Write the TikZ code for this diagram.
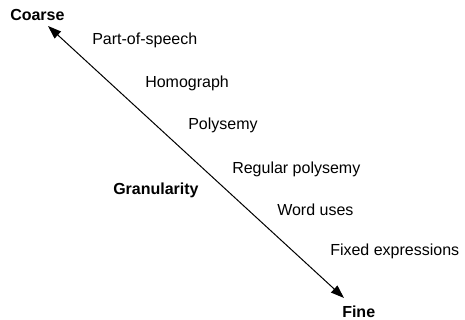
\documentclass[tikz,border=0pt]{standalone}
\usepackage{fontspec}
\setmainfont{Liberation Sans}
\usetikzlibrary{arrows.meta}

\begin{document}
\begin{tikzpicture}[
    x=0.75pt, y=-0.75pt,
    level/.style={anchor=base west, inner sep=0pt, font=\fontsize{12}{14}\selectfont},
    endlabel/.style={anchor=base west, inner sep=0pt, font=\fontsize{12}{14}\selectfont\bfseries},
    scalearrow/.style={{Triangle[length=10pt,width=7pt]}-{Triangle[length=10pt,width=7pt]}, line width=0.75pt}
]
    \useasboundingbox (0,0) rectangle (465,320);

    % Ends of the scale
    \node[endlabel] (coarse) at (10,21) {Coarse};
    \node[endlabel] (fine) at (342,318) {Fine};
    \node[endlabel] (gran) at (113,195) {Granularity};

    % Levels of sense distinction
    \node[level] (pos) at (92,45) {Part-of-speech};
    \node[level] (homo) at (145,88) {Homograph};
    \node[level] (poly) at (188,130) {Polysemy};
    \node[level] (regpoly) at (232,174) {Regular polysemy};
    \node[level] (uses) at (277,216) {Word uses};
    \node[level] (fixed) at (330,256) {Fixed expressions};

    % Scale arrow
    \coordinate (top) at (48,26);
    \coordinate (bottom) at (344,298);
    \draw[scalearrow] (top) -- (bottom);

\end{tikzpicture}
\end{document}
